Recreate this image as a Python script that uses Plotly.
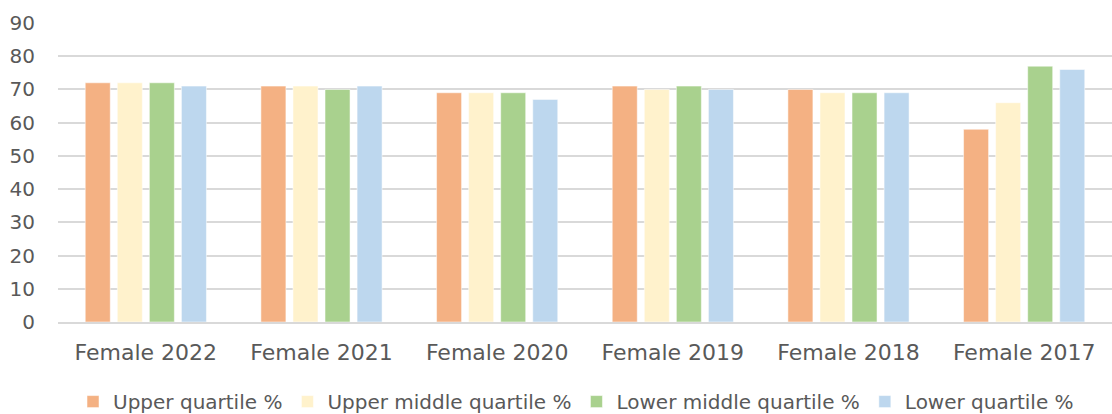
import plotly.graph_objects as go

categories = ["Female 2022", "Female 2021", "Female 2020", "Female 2019", "Female 2018", "Female 2017"]
upper_quartile = [72, 71, 69, 71, 70, 58]
upper_middle_quartile = [72, 71, 69, 70, 69, 66]
lower_middle_quartile = [72, 70, 69, 71, 69, 77]
lower_quartile = [71, 71, 67, 70, 69, 76]
series_names = ["Upper quartile %", "Upper middle quartile %", "Lower middle quartile %", "Lower quartile %"]
colors = ["#F4B183", "#FFF2CC", "#A9D18E", "#BDD7EE"]
y_ticks = [0, 10, 20, 30, 40, 50, 60, 70, 80, 90]

fig = go.Figure()
for name, vals, col in zip(series_names,
                           [upper_quartile, upper_middle_quartile, lower_middle_quartile, lower_quartile],
                           colors):
    fig.add_trace(go.Bar(x=categories, y=vals, name=name,
                         marker=dict(color=col, line=dict(color="rgba(255,255,255,0.5)", width=1))))

font_family = "'DejaVu Sans', sans-serif"
fig.update_layout(
    width=1112, height=414,
    margin=dict(l=58, r=0, t=23, b=92),
    paper_bgcolor="white", plot_bgcolor="white",
    barmode="group", bargap=0.27, bargroupgap=0.22,
    font=dict(family=font_family, color="#595959", size=18),
    showlegend=True,
    legend=dict(orientation="h", x=0.518, xanchor="center", xref="container",
                y=0.03, yanchor="middle", yref="container",
                font=dict(size=20, color="#595959"), itemwidth=30, traceorder="normal"),
    xaxis=dict(showgrid=False, showline=True, linecolor="#d9d9d9", linewidth=1.5,
               tickfont=dict(size=22, color="#595959"), ticks="outside", ticklen=10,
               tickcolor="rgba(0,0,0,0)", automargin=False),
    yaxis=dict(range=[0, 90], tickvals=y_ticks, showgrid=True, gridcolor="#d9d9d9",
               gridwidth=1.5, zeroline=False, tickfont=dict(size=20, color="#595959"),
               ticks="outside", ticklen=18, tickcolor="rgba(0,0,0,0)", automargin=False),
)
fig.write_html("out.html", config={"displayModeBar": False},
               post_script="document.body.style.margin='0';document.body.style.overflow='hidden';")
